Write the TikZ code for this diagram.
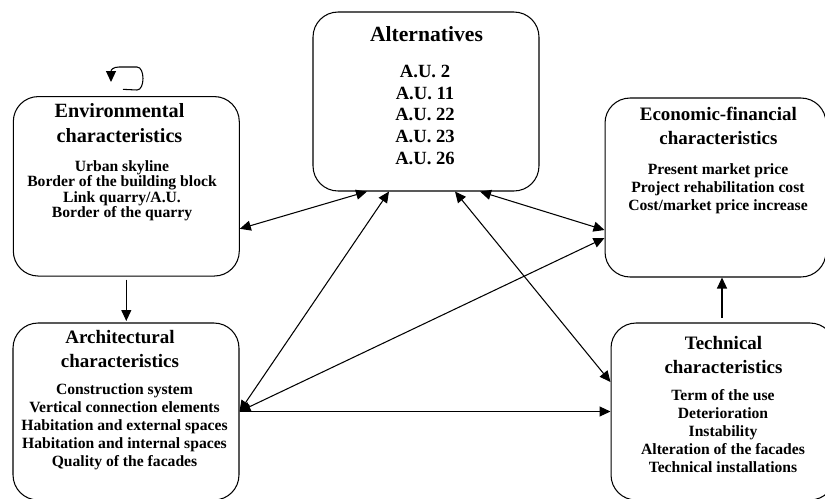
\documentclass[tikz,border=0pt]{standalone}
\usepackage{fontspec}
\setmainfont{Liberation Serif}
\usetikzlibrary{arrows.meta}
\usetikzlibrary{calc}

\begin{document}
\begin{tikzpicture}[x=0.02cm,y=-0.02cm,
  box/.style={draw,rounded corners=0.5cm,line width=0.6pt,inner sep=0},
  ttl/.style={font=\fontsize{10.8}{13.6}\selectfont\bfseries,align=center,anchor=north,inner sep=0},
  itm/.style={font=\fontsize{8.9}{10.2}\selectfont\bfseries,align=center,anchor=north,inner sep=0},
  onearrow/.style={line width=0.6pt,-{Triangle[length=0.22cm,width=0.2cm]}},
  twoarrow/.style={line width=0.6pt,{Triangle[length=0.22cm,width=0.2cm]}-{Triangle[length=0.22cm,width=0.2cm]}}]
  \useasboundingbox (0,0) rectangle (825,498);

  % boxes
  \node[box,minimum width=4.52cm,minimum height=3.59cm] (env) at (126.3,186.3) {};
  \node[box,minimum width=4.52cm,minimum height=3.54cm] (arch) at (126,411.5) {};
  \node[box,minimum width=4.52cm,minimum height=3.58cm] (alt) at (426,101.5) {};
  \node[box,minimum width=4.42cm,minimum height=3.58cm] (econ) at (715.5,187.5) {};
  \node[box,minimum width=4.48cm,minimum height=3.54cm] (tech) at (723,411.5) {};

  % texts
  \node[ttl,font=\fontsize{11.5}{14.2}\selectfont\bfseries] (envttl) at (119.5,103.3) {Environmental\\characteristics};
  \node[itm,font=\fontsize{8.9}{8.8}\selectfont\bfseries] (envitm) at (122,160.3) {Urban skyline\\Border of the building block\\Link quarry/A.U.\\Border of the quarry};
  \node[ttl,font=\fontsize{12.3}{14}\selectfont\bfseries] (altttl) at (426.5,26) {Alternatives};
  \node[itm,font=\fontsize{10.6}{12.3}\selectfont\bfseries] (altitm) at (425,65) {A.U. 2\\A.U. 11\\A.U. 22\\A.U. 23\\A.U. 26};
  \node[ttl] (econttl) at (718.4,106.7) {Economic-financial\\characteristics};
  \node[itm] (econitm) at (718,163.3) {Present market price\\Project rehabilitation cost\\Cost/market price increase};
  \node[ttl] (archttl) at (120,330) {Architectural\\characteristics};
  \node[itm] (architm) at (124.5,383.3) {Construction system\\Vertical connection elements\\Habitation and external spaces\\Habitation and internal spaces\\Quality of the facades};
  \node[ttl] (techttl) at (723.5,336) {Technical\\characteristics};
  \node[itm] (techitm) at (723,389.3) {Term of the use\\Deterioration\\Instability\\Alteration of the facades\\Technical installations};

  % connectors
  \draw[twoarrow] ([yshift=-0.85cm]env.east) -- ([xshift=-1.18cm]alt.south);
  \draw[twoarrow] (arch.east) -- ([xshift=-0.74cm]alt.south);
  \draw[twoarrow] (arch.east) -- ([yshift=-1.01cm]econ.west);
  \draw[onearrow] (arch.east) -- (tech.west);
  \draw[twoarrow] ([xshift=0.58cm]alt.south) -- ([yshift=0.59cm]tech.west);
  \draw[twoarrow] ([xshift=1.08cm]alt.south) -- ([yshift=-0.85cm]econ.west);
  \draw[onearrow,shorten <=0.1cm] ([xshift=-0.02cm]tech.north) -- ([xshift=-0.02cm]tech.north |- econ.south);
  \draw[onearrow,shorten <=0.06cm,shorten >=0.03cm] (env.south) -- (env.south |- arch.north);

  % loop above env
  \coordinate (loopstart) at ([xshift=-0.066cm,yshift=0.134cm]env.north);
  \coordinate (loopend) at (111,82);
  \draw[onearrow] (loopstart) -- (137,90) .. controls (145,90) and (145,67) .. (137,67)
    -- (119,67) .. controls (113,67) and (111,70) .. (loopend);
\end{tikzpicture}
\end{document}
